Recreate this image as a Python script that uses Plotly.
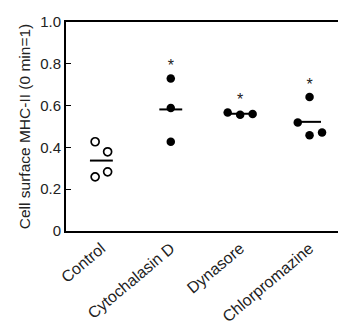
import plotly.graph_objects as go
import numpy as np

categories = ["Control", "Cytochalasin D", "Dynasore", "Chlorpromazine"]
control = [0.427, 0.379, 0.283, 0.259]
cytochalasin_d = [0.730, 0.588, 0.427]
dynasore = [0.567, 0.556, 0.560]
chlorpromazine = [0.641, 0.519, 0.458, 0.471]
significant = [False, True, True, True]
y_ticks = [0, 0.2, 0.4, 0.6, 0.8, 1.0]
y_tick_labels = ["0", "0.2", "0.4", "0.6", "0.8", "1.0"]

groups = [control, cytochalasin_d, dynasore, chlorpromazine]
# horizontal jitter (layout only)
jitter = [[-0.09, 0.09, 0.09, -0.09], [0, 0, 0], [-0.18, 0, 0.18], [0, -0.17, 0, 0.18]]
filled = [False, True, True, True]

FONT = "Liberation Sans, Arial, sans-serif"
fig = go.Figure()

for i, (vals, jit) in enumerate(zip(groups, jitter)):
    m = float(np.mean(vals))
    fig.add_trace(go.Scatter(x=[i - 0.165, i + 0.165], y=[m, m], mode="lines",
                             line=dict(color="black", width=2), showlegend=False, hoverinfo="skip"))
    xs = [i + j for j in jit]
    if filled[i]:
        marker = dict(size=8.5, color="black", line=dict(width=0))
    else:
        marker = dict(size=8, color="white", line=dict(color="black", width=1.7))
    fig.add_trace(go.Scatter(x=xs, y=vals, mode="markers", marker=marker, showlegend=False))
    if significant[i]:
        fig.add_trace(go.Scatter(x=[i], y=[max(vals) + 0.055], mode="text", text=["*"],
                                 textposition="middle center",
                                 textfont=dict(size=16, color="#222", family=FONT),
                                 showlegend=False, hoverinfo="skip"))

fig.update_layout(
    width=338, height=334,
    margin=dict(l=66, r=0, t=22, b=103, autoexpand=False),
    paper_bgcolor="white", plot_bgcolor="white",
    font=dict(family=FONT, size=15, color="#222"),
    xaxis=dict(range=[-0.51, 3.41], tickmode="array", tickvals=list(range(len(categories))),
               ticktext=categories, tickangle=-40, showline=True, mirror=True,
               linecolor="black", linewidth=2, ticks="", showgrid=False, zeroline=False,
               tickfont=dict(size=16), automargin=False),
    yaxis=dict(range=[0, 1], tickmode="array", tickvals=y_ticks, ticktext=y_tick_labels,
               showline=True, linecolor="black", linewidth=2, ticks="inside", ticklen=5,
               tickcolor="black", showgrid=False, zeroline=False, tickfont=dict(size=15),
               automargin=False,
               title=dict(text="Cell surface MHC-II (0 min=1)", font=dict(size=15.5), standoff=6)),
)

fig.write_html("out.html", config={"displayModeBar": False},
               post_script="document.body.style.margin='0';document.body.style.padding='0';document.documentElement.style.overflow='hidden';")
